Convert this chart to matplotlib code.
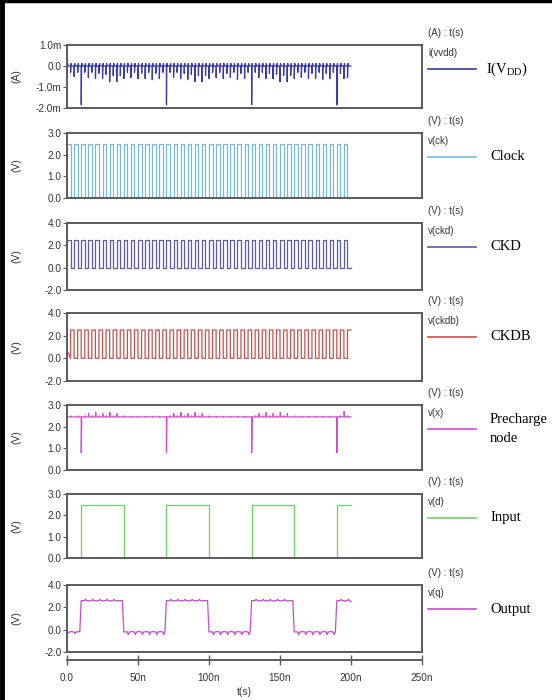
import numpy as np
import matplotlib
matplotlib.use("Agg")
from matplotlib import pyplot as plt
from matplotlib.lines import Line2D

plt.rcParams['font.family'] = ['Liberation Sans', 'DejaVu Sans']
plt.rcParams['mathtext.fontset'] = 'custom'
plt.rcParams['mathtext.rm'] = 'Liberation Serif'

# clock edges every 2.5 ns, 0..197.5 ns
edge_t = np.arange(80) * 2.5
clk_period = 5.0          # ns
clk_high = 2.5            # V

# i(vvdd) negative spike depth at each clock edge (mA)
idd_neg = [-0.55, -0.30, -0.50, -0.30,
           -1.85, -0.30, -0.55, -0.30, -0.60, -0.35, -0.60, -0.40, -0.75, -0.45, -0.75, -0.45,
           -0.60, -0.30, -0.55, -0.30, -0.60, -0.35, -0.60, -0.30, -0.65, -0.35, -0.60, -0.30,
           -1.85, -0.30, -0.55, -0.30, -0.60, -0.35, -0.65, -0.40, -0.75, -0.45, -0.75, -0.45,
           -0.60, -0.30, -0.55, -0.30, -0.60, -0.35, -0.55, -0.30, -0.65, -0.35, -0.60, -0.30,
           -1.85, -0.30, -0.55, -0.30, -0.60, -0.35, -0.60, -0.40, -0.75, -0.45, -0.75, -0.45,
           -0.60, -0.30, -0.55, -0.30, -0.60, -0.35, -0.60, -0.30, -0.65, -0.35, -0.60, -0.30,
           -1.85, -0.35, -0.60, -0.55]
idd_over = 0.12

# precharge node v(x): bump above 2.45 V at each edge, dips to 0.8 V
vx_base = 2.45
vx_bump = [0.0, 0.05, 0.0, 0.05,
           0.0, 0.05, 0.15, 0.05, 0.20, 0.05, 0.15, 0.05, 0.20, 0.05, 0.15, 0.0,
           0.05, 0.0, 0.03, 0.0, 0.03, 0.0, 0.03, 0.0, 0.03, 0.0, 0.03, 0.0,
           0.0, 0.05, 0.15, 0.05, 0.20, 0.05, 0.15, 0.05, 0.20, 0.05, 0.15, 0.0,
           0.05, 0.0, 0.03, 0.0, 0.03, 0.0, 0.03, 0.0, 0.03, 0.0, 0.03, 0.0,
           0.0, 0.05, 0.15, 0.05, 0.20, 0.05, 0.15, 0.05, 0.20, 0.05, 0.15, 0.0,
           0.05, 0.0, 0.03, 0.0, 0.03, 0.0, 0.03, 0.0, 0.03, 0.0, 0.03, 0.0,
           0.0, 0.05, 0.25, 0.05]
vx_dip_t = [10, 70, 130, 190]
vx_dip = 0.8

# input v(d)
d_edges = [0, 10, 40, 70, 100, 130, 160, 190, 200]
d_levels = [0.0, 2.5, 0.0, 2.5, 0.0, 2.5, 0.0, 2.5]

# output v(q)
q_high, q_low = 2.6, -0.2
q_ripple = [-0.15, 0.05, -0.15, 0.05,
            0.0, 0.12, -0.05, 0.12, -0.05, 0.12, -0.05, 0.12, -0.05, 0.12, -0.05, 0.0,
            0.0, -0.25, 0.05, -0.25, 0.05, -0.25, 0.05, -0.25, 0.05, -0.25, 0.05, -0.25,
            0.0, 0.12, -0.05, 0.12, -0.05, 0.12, -0.05, 0.12, -0.05, 0.12, -0.05, 0.0,
            0.0, -0.25, 0.05, -0.25, 0.05, -0.25, 0.05, -0.25, 0.05, -0.25, 0.05, -0.25,
            0.0, 0.12, -0.05, 0.12, -0.05, 0.12, -0.05, 0.12, -0.05, 0.12, -0.05, 0.0,
            0.0, -0.25, 0.05, -0.25, 0.05, -0.25, 0.05, -0.25, 0.05, -0.25, 0.05, -0.25,
            0.0, 0.12, -0.05, 0.12]

panel_names = ['i(vvdd)', 'v(ck)', 'v(ckd)', 'v(ckdb)', 'v(x)', 'v(d)', 'v(q)']
panel_units = ['(A)', '(V)', '(V)', '(V)', '(V)', '(V)', '(V)']
legend_labels = [r'I(V$_{\rm DD}$)', 'Clock', 'CKD', 'CKDB', 'Precharge\nnode', 'Input', 'Output']
colors = ['#3a3aa8', '#7ab8d8', '#5a5aa8', '#c85050', '#d050d0', '#70d070', '#c050c8']
yticks = [[1.0, 0.0, -1.0, -2.0], [3, 2, 1, 0], [4, 2, 0, -2], [4, 2, 0, -2],
          [3, 2, 1, 0], [3, 2, 1, 0], [4, 2, 0, -2]]
ytick_labels = [['1.0m', '0.0', '-1.0m', '-2.0m']] + [None] * 6
x_ticks = [0, 50, 100, 150, 200, 250]
x_tick_labels = ['0.0', '50n', '100n', '150n', '200n', '250n']

tops = [45, 133, 223, 313, 405, 494, 585]
bots = [108, 198, 290, 381, 470, 558, 652]
W, H = 552, 700
left_px, right_px = 67, 422


def square(t0, t1, period, hi, lo, start_hi=True):
    xs, ys = [], []
    t = t0
    level = hi if start_hi else lo
    while t < t1 - 1e-9:
        xs += [t, t + period / 2]
        ys += [level, level]
        t += period / 2
        level = lo if level == hi else hi
    return xs, ys


def waveforms():
    out = []
    # current
    xs, ys = [], []
    for t, pk in zip(edge_t, idd_neg):
        xs += [t, t + 0.05, t + 0.25, t + 0.45, t + 0.7]
        ys += [0.0, pk, 0.0, idd_over, 0.0]
    xs.append(200); ys.append(0.0)
    out.append((xs, ys))
    out.append(square(0, 200, clk_period, clk_high, 0.0, True))
    out.append(square(0, 200, clk_period, clk_high, 0.0, True))
    x3, y3 = square(0, 200, clk_period, clk_high, 0.0, False)
    x3[0], y3[0] = 0, 0.7
    out.append((x3, y3))
    # precharge
    xs, ys = [], []
    for t, b in zip(edge_t, vx_bump):
        if t in vx_dip_t:
            xs += [t, t + 0.05, t + 0.4]
            ys += [vx_base, vx_dip, vx_base]
        else:
            xs += [t, t + 0.2, t + 0.5]
            ys += [vx_base, vx_base + b, vx_base]
    xs.append(200); ys.append(vx_base)
    out.append((xs, ys))
    # input
    xs, ys = [], []
    for i, lv in enumerate(d_levels):
        xs += [d_edges[i], d_edges[i + 1]]
        ys += [lv, lv]
    out.append((xs, ys))
    # output
    xs, ys = [], []
    for t, r in zip(edge_t, q_ripple):
        k = np.searchsorted(d_edges, t, side='right') - 1
        base = q_high if d_levels[k] > 1 else q_low
        xs += [t, t + 0.6, t + 1.5]
        ys += [base, base + r, base]
    xs.append(200); ys.append(q_high - 0.1)
    out.append((xs, ys))
    return out


fig = plt.figure(figsize=(W / 100, H / 100), dpi=100)
fig.patch.set_facecolor('white')
waves = waveforms()
frame_col = '#5a5a5a'
txt_col = '#333333'

for i in range(7):
    ax = fig.add_axes([left_px / W, 1 - bots[i] / H, (right_px - left_px) / W,
                       (bots[i] - tops[i]) / H])
    xs, ys = waves[i]
    ax.plot(xs, ys, color=colors[i], lw=0.9)
    ax.set_xlim(0, 250)
    ax.set_ylim(min(yticks[i]), max(yticks[i]))
    ax.set_yticks(yticks[i])
    if ytick_labels[i]:
        ax.set_yticklabels(ytick_labels[i])
    else:
        ax.set_yticklabels(['%.1f' % v for v in yticks[i]])
    ax.set_xticks([])
    ax.tick_params(axis='y', direction='out', length=3, width=0.8, color=frame_col,
                   labelsize=7.2, labelcolor=txt_col, pad=1)
    for s in ax.spines.values():
        s.set_color(frame_col)
        s.set_linewidth(1.4)
    ax.set_ylabel(panel_units[i], fontsize=7.5, color=txt_col)
    ax.yaxis.set_label_coords(-0.128, 0.5)

    # right-hand annotations
    xr = (right_px + 6) / W
    fig.text(xr, 1 - (tops[i] - 12) / H, panel_units[i] + ' : t(s)', fontsize=7,
             color=txt_col, va='center')
    fig.text(xr, 1 - (tops[i] + 8) / H, panel_names[i], fontsize=7,
             color=txt_col, va='center')
    ly = 1 - (tops[i] + 24) / H
    fig.add_artist(Line2D([xr, (right_px + 54) / W], [ly, ly], color=colors[i], lw=1.2))
    lx = (486 if i == 0 else 490) / W
    fig.text(lx, ly, legend_labels[i], fontsize=10.5, family='Liberation Serif',
             color='black', va='center', linespacing=1.6)

# shared time axis
axx = fig.add_axes([left_px / W, 1 - 660 / H, (right_px - left_px) / W, 0.001])
axx.set_xlim(0, 250)
axx.set_xticks(x_ticks)
axx.set_xticklabels(x_tick_labels)
axx.set_yticks([])
for k in ['left', 'right', 'top']:
    axx.spines[k].set_visible(False)
axx.spines['bottom'].set_color(frame_col)
axx.spines['bottom'].set_linewidth(1.4)
axx.patch.set_visible(False)
axx.tick_params(axis='x', direction='inout', length=7, width=1.0, color=frame_col,
                labelsize=7.2, labelcolor=txt_col, pad=6)
axx.set_xlabel('t(s)', fontsize=7.5, color=txt_col, labelpad=3)

# black frame on left and top
fig.add_artist(Line2D([0.0035, 0.0035], [0, 1], color='black', lw=3.5))
fig.add_artist(Line2D([0, 1], [0.998, 0.998], color='black', lw=2.5))

fig.savefig('out.png', dpi=100, facecolor='white')
